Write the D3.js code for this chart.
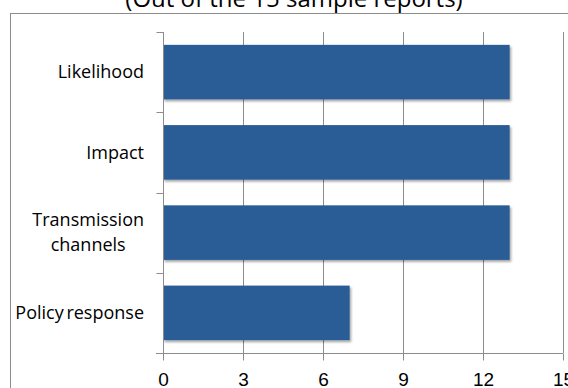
<!DOCTYPE html>
<html>
<head>
<meta charset="utf-8">
<script src="https://cdn.jsdelivr.net/npm/d3@7"></script>
<style>
  body { margin: 0; background: #fff; }
  svg { display: block; font-family: "Open Sans", "Segoe UI", sans-serif; }
</style>
</head>
<body>
<div id="chart"></div>
<script>
// data
const categories = [["Likelihood"], ["Impact"], ["Transmission", "channels"], ["Policy response"]];
const values = [13, 13, 13, 7];
const xTicks = [0, 3, 6, 9, 12, 15];
const title = "(Out of the 15 sample reports)";

const width = 568, height = 388;
const margin = {top: 32, right: 5, bottom: 35, left: 163};

const svg = d3.select("#chart").append("svg")
    .attr("width", width)
    .attr("height", height);

// chart area border (runs off the right and bottom)
svg.append("rect")
    .attr("x", 10.5).attr("y", 13.5)
    .attr("width", 600).attr("height", 400)
    .attr("fill", "none")
    .attr("stroke", "#8c8c8c")
    .attr("stroke-width", 1);

svg.append("text")
    .attr("x", 294)
    .attr("y", 7)
    .attr("text-anchor", "middle")
    .style("font-size", "24px")
    .attr("fill", "#000")
    .text(title);

const x = d3.scaleLinear().domain([0, 15]).range([margin.left, width - margin.right]);
const y = d3.scaleBand()
    .domain(categories.map(d => d.join(" ")))
    .range([margin.top, height - margin.bottom])
    .paddingInner(0.32)
    .paddingOuter(0.16);

const plotTop = margin.top, plotBottom = height - margin.bottom;

// vertical gridlines
svg.append("g").selectAll("line")
    .data(xTicks.slice(1))
    .enter().append("line")
    .attr("x1", d => Math.round(x(d)) + 0.5)
    .attr("x2", d => Math.round(x(d)) + 0.5)
    .attr("y1", plotTop)
    .attr("y2", plotBottom)
    .attr("stroke", "#8c8c8c");

// drop shadow for bars
const defs = svg.append("defs");
const f = defs.append("filter").attr("id", "shadow")
    .attr("x", "-5%").attr("y", "-10%").attr("width", "115%").attr("height", "130%");
f.append("feDropShadow")
    .attr("dx", 1.5).attr("dy", 2).attr("stdDeviation", 1.2)
    .attr("flood-color", "#000").attr("flood-opacity", 0.35);

svg.append("g").selectAll("rect")
    .data(values)
    .enter().append("rect")
    .attr("x", x(0))
    .attr("y", (d, i) => y(categories[i].join(" ")))
    .attr("width", d => x(d) - x(0))
    .attr("height", y.bandwidth())
    .attr("fill", "#2c5c96")
    .attr("filter", "url(#shadow)");

// x axis
const xAxis = svg.append("g")
    .attr("transform", `translate(0,${Math.round(plotBottom) + 0.5})`)
    .call(d3.axisBottom(x).tickValues(xTicks).tickSize(7).tickPadding(12).tickSizeOuter(0));
xAxis.select(".domain").attr("d", `M${x(0) - 7},0H${x(15)}`);
xAxis.selectAll("line").attr("stroke", "#8c8c8c");
xAxis.select(".domain").attr("stroke", "#8c8c8c");
xAxis.selectAll("text").style("font-size", "19px").attr("fill", "#000").attr("font-family", null);

// y axis: ticks on band boundaries
const yAxis = svg.append("g").attr("transform", `translate(${Math.round(x(0)) + 0.5},0)`);
yAxis.append("line")
    .attr("y1", plotTop).attr("y2", plotBottom)
    .attr("stroke", "#8c8c8c");
const step = y.step();
yAxis.selectAll("line.tick")
    .data(d3.range(categories.length))
    .enter().append("line")
    .attr("class", "tick")
    .attr("x1", -7).attr("x2", 0)
    .attr("y1", i => Math.round(plotTop + i * step) + 0.5)
    .attr("y2", i => Math.round(plotTop + i * step) + 0.5)
    .attr("stroke", "#8c8c8c");

// category labels, centred lines, block right-aligned
const lineH = 25;
const labels = svg.append("g");
categories.forEach((lines, i) => {
    const cy = y(lines.join(" ")) + y.bandwidth() / 2;
    const t = labels.append("text")
        .attr("text-anchor", "middle")
        .style("font-size", "18px")
        .attr("fill", "#000");
    lines.forEach((ln, j) => {
        t.append("tspan")
            .attr("x", 0)
            .attr("y", cy + (j - (lines.length - 1) / 2) * lineH)
            .attr("dy", "0.35em")
            .style("word-spacing", lines[0] === "Policy response" ? "-2px" : null)
            .text(ln);
    });
    const w = t.node().getBBox().width;
    t.attr("transform", `translate(${144 - w / 2},0)`);
});
</script>
</body>
</html>
